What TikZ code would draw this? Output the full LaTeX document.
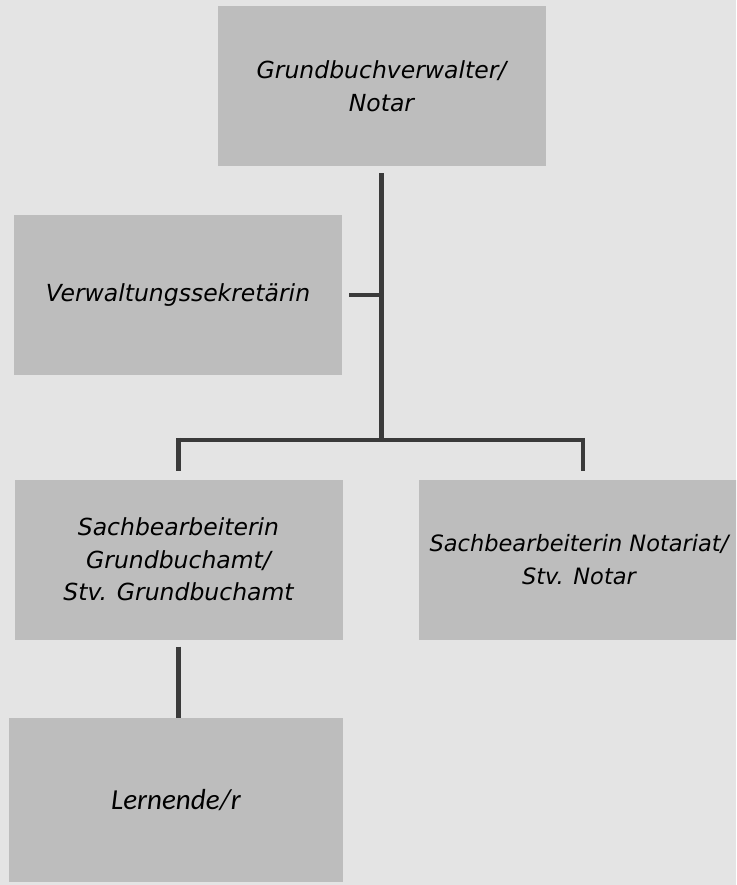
\documentclass[tikz,border=0pt]{standalone}
\usepackage{fontspec}
\newfontfamily\orgfont{DejaVu Sans}
\newfontfamily\lernfont{Carlito}
\usetikzlibrary{calc}
\definecolor{bggray}{RGB}{228,228,228}
\definecolor{boxgray}{RGB}{189,189,189}
\definecolor{linegray}{RGB}{58,58,58}
\tikzset{
  orgbox/.style={fill=boxgray,minimum width=328pt,minimum height=160pt,inner sep=0pt,
    align=center,font=\orgfont\itshape\fontsize{23.5}{32.5}\selectfont},
  orgline/.style={draw=linegray,line width=4.5pt}
}

\begin{document}
\begin{tikzpicture}[x=1pt,y=1pt]
% hintergrund
\useasboundingbox (0,0) rectangle (736,-885);
\clip (0,0) rectangle (736,-885);
\fill[bggray] (0,0) rectangle (736,-885);
% kaestchen
\node[orgbox] (chef) at (381.5,-86) {Grundbuchverwalter/\\Notar};
\node[orgbox] (sekr) at (178,-295) {Verwaltungssekretärin};
\node[orgbox] (grund) at (178.5,-559.5) {Sachbearbeiterin\\Grundbuchamt/\\Stv. Grundbuchamt};
\node[orgbox] (notar) at (583,-559.5) {};
\node[font=\orgfont\itshape\fontsize{22.5}{32.5}\selectfont,align=center,inner sep=0pt]
  (notartext) at ($(notar.center)+(-4,0)$) {Sachbearbeiterin Notariat/\\Stv. Notar};
\node[orgbox,minimum width=334pt,minimum height=164pt,font=\lernfont\itshape\fontsize{29}{32}\selectfont]
  (lern) at (176,-800) {Lernende/r};
% verbindungen
\coordinate (knick) at ($(chef.south)+(0,-274)$);
\coordinate (links) at (grund.north |- knick);
\coordinate (rechts) at (notar.north |- knick);
\draw[orgline] ($(chef.south)+(0,-7)$) -- (knick);
\draw[orgline] ($(sekr.east)+(7,0)$) -- (sekr.east -| knick);
\draw[orgline] (links) -- (rechts);
\draw[orgline] ([yshift=2.25pt]links) -- ($(grund.north)+(0,8)$);
\draw[orgline] ([yshift=2.25pt]rechts) -- ($(notar.north)+(0,8)$);
\draw[orgline] ($(grund.south)+(0,-7)$) -- (grund.south |- lern.north);
\end{tikzpicture}
\end{document}
